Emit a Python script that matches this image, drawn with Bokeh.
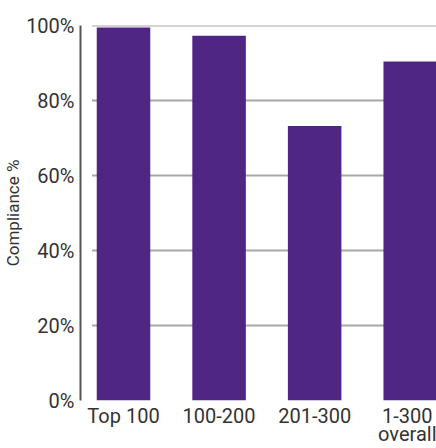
from bokeh.plotting import figure
from bokeh.models import Range1d, FixedTicker, ColumnDataSource
from bokeh.embed import file_html
from bokeh.resources import INLINE

# Compliance by ranking band
categories = ["Top 100", "100-200", "201-300", "1-300\noverall"]
compliance = [99.5, 97.3, 73.2, 90.4]
y_ticks = [0, 20, 40, 60, 80, 100]
y_tick_labels = ["0%", "20%", "40%", "60%", "80%", "100%"]

FONT = "Roboto"
TEXT = "#333333"

xs = list(range(len(categories)))
src = ColumnDataSource(dict(x=xs, top=compliance))

p = figure(width=436, height=448, output_backend="svg", toolbar_location=None,
           x_range=Range1d(-0.45, 3.275), y_range=Range1d(0, 100),
           min_border_left=0, min_border_right=0, min_border_top=25,
           min_border_bottom=0)
p.outline_line_color = None
p.xgrid.visible = False
p.ygrid.visible = False

# horizontal guide lines, starting a little right of the axis
grid_src = ColumnDataSource(dict(x0=[-0.33] * len(y_ticks[1:]),
                                 x1=[3.3] * len(y_ticks[1:]),
                                 y=y_ticks[1:]))
p.segment(x0="x0", x1="x1", y0="y", y1="y", source=grid_src,
          line_color="#a8a8a8", line_width=2)

p.vbar(x="x", top="top", bottom=0, width=0.56, source=src,
       fill_color="#4f2683", line_color=None)

# y axis
ya = p.yaxis[0]
ya.ticker = FixedTicker(ticks=y_ticks)
ya.major_label_overrides = {t: l for t, l in zip(y_ticks, y_tick_labels)}
ya.major_tick_line_color = None
ya.major_tick_out = 0
ya.minor_tick_line_color = None
ya.minor_tick_out = 0
ya.axis_line_color = "#555555"
ya.axis_line_width = 2
ya.major_label_text_font = FONT
ya.major_label_text_font_size = "20px"
ya.major_label_text_color = TEXT
ya.major_label_standoff = 6
ya.axis_label = "Compliance %"
ya.axis_label_text_font = FONT
ya.axis_label_text_font_size = "17px"
ya.axis_label_text_font_style = "normal"
ya.axis_label_text_color = TEXT
ya.axis_label_standoff = 0

# x axis
xa = p.xaxis[0]
xa.ticker = FixedTicker(ticks=xs)
xa.major_label_overrides = {x: c for x, c in zip(xs, categories)}
xa.axis_line_color = None
xa.major_tick_line_color = None
xa.major_tick_out = 0
xa.minor_tick_line_color = None
xa.minor_tick_out = 0
xa.major_label_text_font = FONT
xa.major_label_text_font_size = "20px"
xa.major_label_text_color = TEXT
xa.major_label_standoff = 3
xa.major_label_text_line_height = 0.75

open("out.html", "w").write(file_html(p, INLINE))
